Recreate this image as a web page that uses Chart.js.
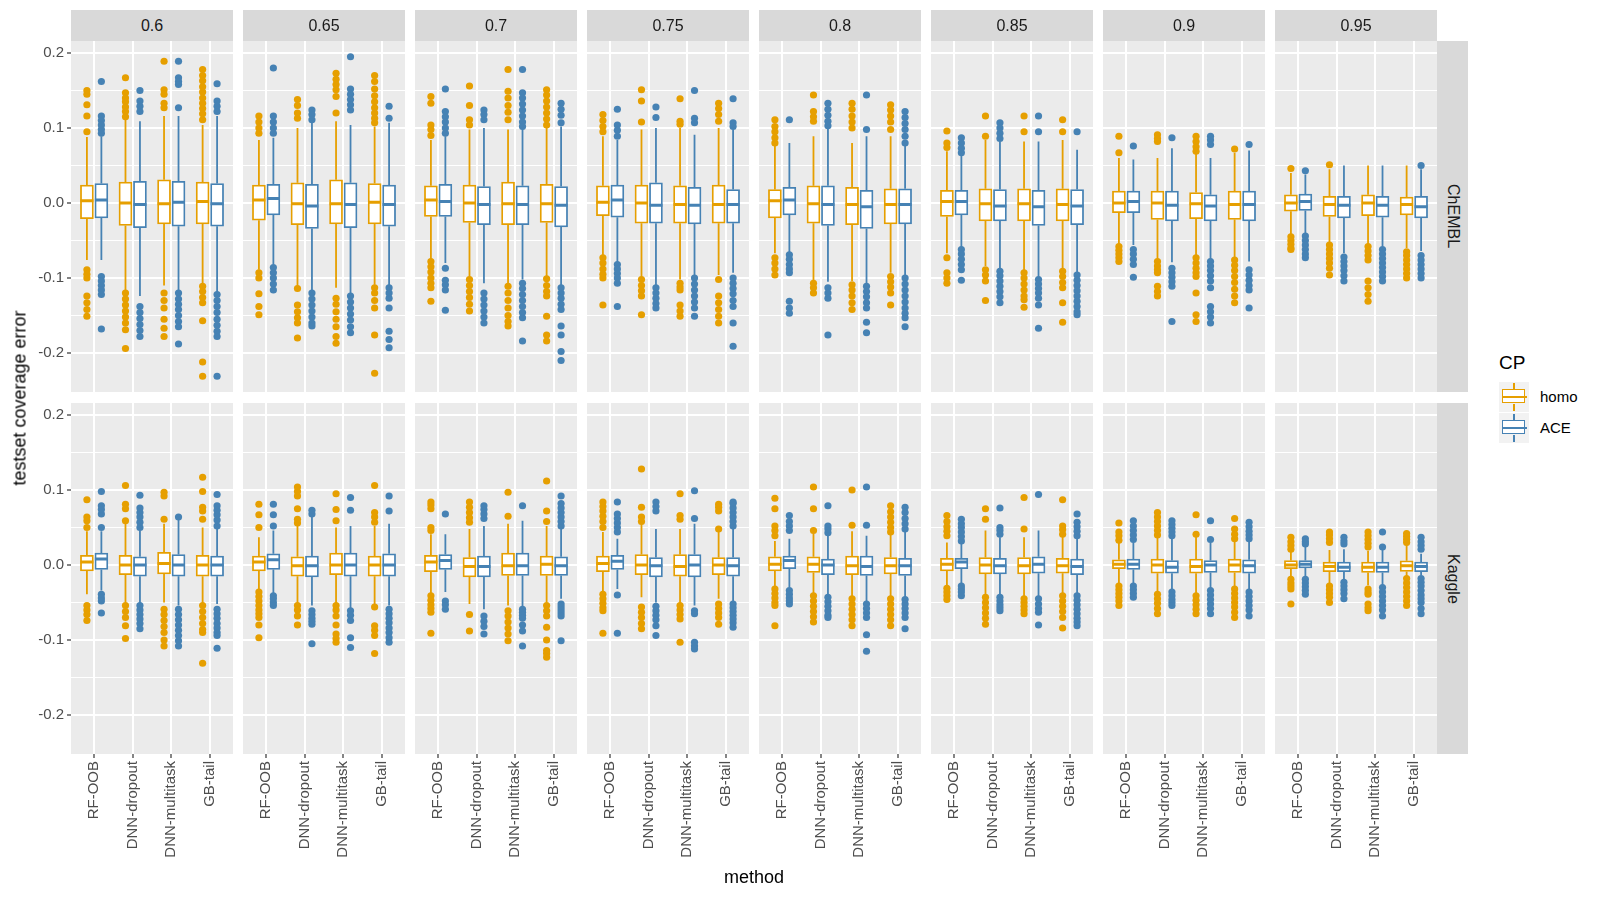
<!DOCTYPE html>
<html>
<head>
<meta charset="utf-8">
<script src="https://cdn.jsdelivr.net/npm/chart.js@4.4.1/dist/chart.umd.min.js"></script>
<style>
  body { margin: 0; background: #fff; font-family: 'Liberation Sans', Arial, sans-serif; }
  #page { position: relative; width: 1600px; height: 900px; overflow: hidden; }
  canvas { position: absolute; }
  .strip { position: absolute; background: #D9D9D9; color: #1A1A1A; font-size: 16px;
           display: flex; align-items: center; justify-content: center; z-index: 2; }
  .strip.side { writing-mode: vertical-rl; }
  .title { position: absolute; color: #000; font-size: 18px; white-space: nowrap; z-index: 2; }
  .key { position: absolute; width: 30px; height: 30px; background: #F2F2F2; }
  .key .bx { position: absolute; left: 3px; top: 7px; width: 21px; height: 12px; background: #fff; border: 1.8px solid; }
  .key .md { position: absolute; left: 3px; top: 14px; width: 25px; height: 2.4px; }
  .key .wh { position: absolute; left: 14px; width: 1.8px; }
  .keytxt { position: absolute; font-size: 15px; color: #000; }
</style>
</head>
<body>
<div id="page"></div>
<script>
// facets, categories, groups
const cutoffs = ['0.6', '0.65', '0.7', '0.75', '0.8', '0.85', '0.9', '0.95'];
const dataSources = ['ChEMBL', 'Kaggle'];
const methods = ['RF-OOB', 'DNN-dropout', 'DNN-multitask', 'GB-tail'];
const cpGroups = ['homo', 'ACE'];
const yTicks = [-0.2, -0.1, 0, 0.1, 0.2];

// box stats per cutoff, per method: [lower whisker, q1, median, q3, upper whisker]
const chemblHomo = [
  [[-0.076,-0.021,0.003,0.024,0.088],[-0.116,-0.030,0.000,0.028,0.111],[-0.110,-0.028,-0.001,0.031,0.116],[-0.107,-0.028,0.002,0.028,0.104]],
  [[-0.089,-0.023,0.004,0.024,0.084],[-0.113,-0.029,-0.001,0.027,0.100],[-0.113,-0.028,-0.001,0.031,0.109],[-0.109,-0.028,0.001,0.026,0.102]],
  [[-0.076,-0.018,0.004,0.023,0.084],[-0.102,-0.026,0.000,0.024,0.098],[-0.109,-0.029,-0.001,0.028,0.098],[-0.098,-0.026,-0.001,0.025,0.100]],
  [[-0.071,-0.017,0.001,0.023,0.089],[-0.100,-0.027,0.000,0.024,0.098],[-0.102,-0.027,-0.002,0.023,0.100],[-0.096,-0.027,-0.002,0.024,0.100]],
  [[-0.067,-0.020,0.003,0.018,0.076],[-0.104,-0.027,-0.001,0.023,0.089],[-0.104,-0.029,-0.002,0.021,0.080],[-0.093,-0.028,-0.002,0.019,0.089]],
  [[-0.067,-0.018,0.002,0.017,0.069],[-0.084,-0.024,-0.001,0.019,0.084],[-0.091,-0.024,-0.001,0.019,0.082],[-0.087,-0.024,-0.002,0.019,0.084]],
  [[-0.056,-0.013,0.000,0.016,0.060],[-0.078,-0.022,0.000,0.016,0.060],[-0.071,-0.021,-0.001,0.014,0.067],[-0.073,-0.022,-0.002,0.016,0.067]],
  [[-0.042,-0.011,0.000,0.011,0.040],[-0.053,-0.018,-0.002,0.009,0.045],[-0.056,-0.017,0.000,0.011,0.050],[-0.060,-0.016,-0.002,0.008,0.050]]
];
const chemblAce = [
  [[-0.076,-0.020,0.004,0.026,0.089],[-0.124,-0.033,-0.002,0.029,0.109],[-0.118,-0.031,0.001,0.029,0.116],[-0.120,-0.031,-0.001,0.026,0.116]],
  [[-0.082,-0.016,0.006,0.025,0.087],[-0.118,-0.034,-0.004,0.025,0.108],[-0.122,-0.033,-0.002,0.027,0.104],[-0.111,-0.031,-0.002,0.024,0.107]],
  [[-0.080,-0.018,0.002,0.025,0.089],[-0.107,-0.029,-0.002,0.022,0.100],[-0.102,-0.029,-0.002,0.023,0.100],[-0.111,-0.032,-0.003,0.022,0.102]],
  [[-0.080,-0.019,0.004,0.024,0.084],[-0.111,-0.027,-0.003,0.027,0.100],[-0.096,-0.028,-0.003,0.021,0.091],[-0.093,-0.027,-0.002,0.018,0.098]],
  [[-0.067,-0.016,0.004,0.021,0.080],[-0.105,-0.030,-0.002,0.023,0.100],[-0.109,-0.034,-0.005,0.017,0.089],[-0.098,-0.028,-0.002,0.019,0.076]],
  [[-0.060,-0.016,0.002,0.017,0.064],[-0.089,-0.024,-0.004,0.018,0.082],[-0.100,-0.030,-0.005,0.017,0.082],[-0.093,-0.029,-0.004,0.018,0.071]],
  [[-0.056,-0.013,0.002,0.016,0.058],[-0.079,-0.024,-0.003,0.016,0.073],[-0.075,-0.024,-0.004,0.011,0.060],[-0.078,-0.024,-0.002,0.016,0.070]],
  [[-0.040,-0.010,0.002,0.012,0.038],[-0.067,-0.020,-0.003,0.009,0.050],[-0.058,-0.019,-0.003,0.009,0.050],[-0.064,-0.020,-0.005,0.009,0.045]]
];
const kaggleHomo = [
  [[-0.039,-0.008,0.004,0.013,0.045],[-0.050,-0.013,0.000,0.013,0.055],[-0.050,-0.012,0.002,0.017,0.055],[-0.052,-0.015,0.000,0.013,0.050]],
  [[-0.032,-0.008,0.004,0.012,0.037],[-0.054,-0.015,-0.001,0.011,0.052],[-0.054,-0.013,0.000,0.016,0.050],[-0.054,-0.015,0.000,0.012,0.052]],
  [[-0.040,-0.009,0.004,0.013,0.041],[-0.052,-0.016,-0.002,0.010,0.048],[-0.054,-0.014,-0.001,0.016,0.055],[-0.050,-0.014,0.001,0.012,0.052]],
  [[-0.036,-0.009,0.002,0.012,0.044],[-0.043,-0.013,0.000,0.014,0.055],[-0.052,-0.015,-0.002,0.014,0.048],[-0.045,-0.013,0.000,0.010,0.044]],
  [[-0.030,-0.008,0.001,0.011,0.032],[-0.039,-0.010,0.001,0.011,0.042],[-0.045,-0.013,-0.001,0.012,0.045],[-0.045,-0.012,-0.001,0.010,0.040]],
  [[-0.030,-0.008,0.001,0.009,0.030],[-0.041,-0.012,0.000,0.010,0.046],[-0.043,-0.012,-0.001,0.010,0.037],[-0.041,-0.011,-0.001,0.009,0.038]],
  [[-0.025,-0.005,0.001,0.007,0.030],[-0.036,-0.011,0.000,0.008,0.037],[-0.041,-0.011,-0.002,0.008,0.039],[-0.030,-0.010,0.000,0.008,0.032]],
  [[-0.016,-0.005,0.000,0.006,0.019],[-0.027,-0.009,-0.002,0.004,0.020],[-0.027,-0.010,-0.003,0.004,0.019],[-0.016,-0.0085,-0.001,0.0057,0.028]]
];
const kaggleAce = [
  [[-0.034,-0.006,0.008,0.016,0.045],[-0.052,-0.015,0.000,0.011,0.046],[-0.054,-0.015,0.000,0.014,0.061],[-0.052,-0.015,0.000,0.012,0.048]],
  [[-0.039,-0.006,0.007,0.015,0.046],[-0.054,-0.016,-0.001,0.012,0.066],[-0.059,-0.015,0.000,0.016,0.052],[-0.054,-0.015,0.000,0.015,0.055]],
  [[-0.036,-0.006,0.006,0.014,0.041],[-0.059,-0.016,-0.002,0.012,0.052],[-0.056,-0.014,-0.001,0.016,0.059],[-0.045,-0.014,-0.001,0.011,0.048]],
  [[-0.032,-0.006,0.005,0.013,0.035],[-0.050,-0.016,-0.001,0.010,0.048],[-0.054,-0.016,0.000,0.014,0.055],[-0.050,-0.015,-0.001,0.010,0.048]],
  [[-0.030,-0.005,0.006,0.012,0.035],[-0.041,-0.013,0.000,0.008,0.039],[-0.050,-0.014,-0.002,0.012,0.039],[-0.045,-0.014,-0.001,0.009,0.044]],
  [[-0.026,-0.005,0.004,0.009,0.030],[-0.041,-0.012,-0.001,0.009,0.037],[-0.043,-0.011,0.001,0.011,0.046],[-0.039,-0.013,-0.002,0.008,0.036]],
  [[-0.026,-0.006,0.001,0.008,0.030],[-0.034,-0.011,-0.003,0.006,0.035],[-0.032,-0.010,0.000,0.006,0.030],[-0.034,-0.011,-0.001,0.007,0.032]],
  [[-0.016,-0.004,0.001,0.006,0.024],[-0.021,-0.009,-0.003,0.004,0.021],[-0.027,-0.010,-0.003,0.004,0.021],[-0.014,-0.009,-0.002,0.004,0.015]]
];

// outliers per cutoff, per method
const chemblHomoOut = [
  [[0.095,0.116,0.131,0.145,0.150,-0.089,-0.095,-0.100,-0.124,-0.133,-0.142,-0.151],
   [0.167,0.147,0.140,0.135,0.128,0.122,0.115,-0.120,-0.128,-0.136,-0.144,-0.152,-0.160,-0.169,-0.194],
   [0.189,0.151,0.145,0.133,0.127,-0.120,-0.130,-0.140,-0.155,-0.167,-0.178],
   [0.178,0.170,0.163,0.155,0.148,0.140,0.133,0.126,0.119,0.111,-0.111,-0.118,-0.126,-0.133,-0.157,-0.212,-0.231]],
  [[0.116,0.108,0.100,0.093,-0.093,-0.100,-0.121,-0.138,-0.149],
   [0.138,0.130,0.120,0.113,-0.114,-0.136,-0.145,-0.153,-0.160,-0.180],
   [0.173,0.165,0.158,0.151,0.142,0.120,-0.127,-0.135,-0.145,-0.155,-0.165,-0.178,-0.187],
   [0.170,0.162,0.152,0.143,0.135,0.127,0.120,0.113,0.107,-0.113,-0.120,-0.130,-0.140,-0.176,-0.227]],
  [[0.142,0.133,0.104,0.098,0.090,-0.078,-0.085,-0.092,-0.100,-0.107,-0.113,-0.131],
   [0.156,0.130,0.111,0.104,-0.102,-0.110,-0.118,-0.126,-0.135,-0.144],
   [0.178,0.149,0.140,0.130,0.121,0.111,-0.111,-0.120,-0.130,-0.140,-0.150,-0.158,-0.164],
   [0.151,0.144,0.136,0.128,0.120,0.112,0.104,-0.101,-0.110,-0.118,-0.124,-0.151,-0.176,-0.184]],
  [[0.118,0.110,0.102,0.095,-0.073,-0.080,-0.088,-0.095,-0.100,-0.136],
   [0.151,0.136,0.108,-0.102,-0.110,-0.117,-0.124,-0.149],
   [0.139,0.109,0.105,-0.107,-0.112,-0.116,-0.136,-0.144,-0.151],
   [0.133,0.126,0.118,0.109,-0.102,-0.124,-0.133,-0.142,-0.151,-0.160]],
  [[0.111,0.102,0.095,0.087,0.080,-0.073,-0.080,-0.088,-0.096],
   [0.144,0.122,0.115,0.109,-0.107,-0.113,-0.120],
   [0.133,0.125,0.116,0.108,0.100,-0.109,-0.116,-0.124,-0.133,-0.142],
   [0.131,0.124,0.116,0.108,0.098,-0.098,-0.105,-0.112,-0.120,-0.136]],
  [[0.096,0.080,0.074,-0.073,-0.093,-0.100,-0.107],
   [0.116,0.089,-0.089,-0.096,-0.104,-0.130],
   [0.116,0.095,-0.093,-0.100,-0.108,-0.116,-0.124,-0.129,-0.139],
   [0.111,0.095,-0.091,-0.098,-0.106,-0.113,-0.133,-0.159]],
  [[0.089,0.067,-0.058,-0.063,-0.068,-0.073,-0.078],
   [0.091,0.086,0.082,-0.078,-0.084,-0.089,-0.093,-0.111,-0.118,-0.124],
   [0.089,0.082,0.075,0.069,-0.073,-0.080,-0.087,-0.093,-0.098,-0.120,-0.149,-0.158],
   [0.072,-0.076,-0.083,-0.090,-0.098,-0.106,-0.115,-0.124,-0.133]],
  [[0.046,-0.045,-0.050,-0.055,-0.060,-0.062],
   [0.051,-0.056,-0.062,-0.068,-0.074,-0.080,-0.087,-0.096],
   [-0.058,-0.064,-0.070,-0.076,-0.104,-0.113,-0.122,-0.131],
   [-0.065,-0.070,-0.076,-0.082,-0.088,-0.094,-0.100]]
];
const chemblAceOut = [
  [[0.162,0.116,0.110,0.104,0.098,0.093,-0.098,-0.104,-0.110,-0.116,-0.122,-0.168],
   [0.150,0.136,0.129,0.122,-0.138,-0.146,-0.154,-0.162,-0.170,-0.178],
   [0.189,0.167,0.162,0.158,0.127,-0.120,-0.128,-0.135,-0.142,-0.150,-0.158,-0.165,-0.188],
   [0.159,0.136,0.129,0.122,-0.122,-0.130,-0.138,-0.146,-0.155,-0.163,-0.171,-0.178,-0.231]],
  [[0.180,0.116,0.108,0.100,0.093,-0.086,-0.093,-0.100,-0.108,-0.116],
   [0.124,0.118,0.111,-0.120,-0.128,-0.136,-0.144,-0.152,-0.160,-0.164],
   [0.195,0.152,0.145,0.138,0.131,0.124,-0.124,-0.132,-0.140,-0.148,-0.156,-0.165,-0.173],
   [0.129,0.113,-0.113,-0.120,-0.127,-0.140,-0.171,-0.182,-0.193]],
  [[0.152,0.122,0.115,0.108,0.100,0.093,-0.087,-0.103,-0.109,-0.116,-0.143],
   [0.124,0.118,0.111,-0.120,-0.128,-0.136,-0.144,-0.152,-0.160],
   [0.178,0.147,0.140,0.132,0.124,0.116,0.108,0.102,-0.107,-0.114,-0.122,-0.130,-0.138,-0.146,-0.153,-0.184],
   [0.133,0.125,0.117,0.107,-0.113,-0.120,-0.127,-0.135,-0.142,-0.164,-0.176,-0.198,-0.210]],
  [[0.125,0.104,0.097,0.089,-0.082,-0.088,-0.094,-0.100,-0.107,-0.138],
   [0.128,0.114,-0.113,-0.120,-0.127,-0.134,-0.140],
   [0.150,0.113,0.107,-0.100,-0.108,-0.116,-0.124,-0.132,-0.140,-0.151],
   [0.139,0.107,0.102,-0.100,-0.107,-0.114,-0.121,-0.130,-0.138,-0.160,-0.191]],
  [[0.111,-0.069,-0.075,-0.082,-0.088,-0.093,-0.131,-0.140,-0.147],
   [0.133,0.125,0.117,0.109,0.103,-0.113,-0.120,-0.127,-0.176],
   [0.144,0.098,-0.111,-0.118,-0.125,-0.133,-0.140,-0.159,-0.173],
   [0.122,0.114,0.106,0.098,0.089,0.080,-0.100,-0.108,-0.116,-0.124,-0.132,-0.140,-0.147,-0.153,-0.165]],
  [[0.087,0.080,0.073,0.067,-0.062,-0.068,-0.075,-0.082,-0.089,-0.103],
   [0.107,0.100,0.093,0.086,-0.091,-0.097,-0.104,-0.111,-0.118,-0.125,-0.133],
   [0.116,0.095,-0.102,-0.108,-0.114,-0.120,-0.127,-0.136,-0.167],
   [0.095,-0.096,-0.103,-0.110,-0.117,-0.124,-0.131,-0.138,-0.145,-0.149]],
  [[0.076,-0.062,-0.068,-0.075,-0.082,-0.099],
   [0.087,-0.087,-0.093,-0.099,-0.105,-0.111,-0.158],
   [0.089,0.084,0.078,-0.078,-0.084,-0.090,-0.097,-0.104,-0.113,-0.138,-0.145,-0.152,-0.160],
   [0.078,-0.089,-0.096,-0.103,-0.110,-0.116,-0.140]],
  [[0.043,-0.044,-0.050,-0.056,-0.062,-0.068,-0.073],
   [-0.072,-0.078,-0.084,-0.090,-0.097,-0.104],
   [-0.062,-0.068,-0.074,-0.080,-0.086,-0.092,-0.098,-0.104],
   [0.050,-0.070,-0.076,-0.082,-0.088,-0.094,-0.100]]
];
const kaggleHomoOut = [
  [[0.050,0.059,0.064,0.087,-0.054,-0.060,-0.066,-0.074],
   [0.059,0.075,0.081,0.106,-0.054,-0.062,-0.070,-0.081,-0.098],
   [0.061,0.092,0.097,-0.059,-0.066,-0.074,-0.082,-0.090,-0.100,-0.108],
   [0.061,0.072,0.077,0.098,0.117,-0.054,-0.062,-0.070,-0.078,-0.086,-0.090,-0.131]],
  [[0.050,0.067,0.081,-0.036,-0.042,-0.048,-0.054,-0.060,-0.065,-0.070,-0.080,-0.097],
   [0.104,0.098,0.092,0.075,0.061,0.056,-0.054,-0.060,-0.068,-0.080],
   [0.059,0.074,0.095,-0.054,-0.060,-0.068,-0.080,-0.092,-0.098,-0.103],
   [0.106,0.070,0.064,0.057,-0.056,-0.081,-0.087,-0.094,-0.118]],
  [[0.046,0.050,0.075,0.080,0.084,-0.041,-0.047,-0.053,-0.058,-0.063,-0.091],
   [0.057,0.063,0.070,0.077,0.084,-0.066,-0.088],
   [0.065,0.097,-0.061,-0.068,-0.076,-0.084,-0.092,-0.101],
   [0.058,0.072,0.112,-0.054,-0.061,-0.068,-0.083,-0.100,-0.114,-0.118,-0.123]],
  [[0.050,0.058,0.065,0.072,0.078,0.084,-0.039,-0.045,-0.051,-0.057,-0.061,-0.091],
   [0.058,0.064,0.077,0.128,-0.056,-0.063,-0.070,-0.078,-0.085],
   [0.061,0.066,0.095,-0.054,-0.060,-0.066,-0.072,-0.103],
   [0.048,0.072,0.077,0.081,-0.052,-0.058,-0.064,-0.070,-0.079]],
  [[0.039,0.046,0.052,0.075,0.089,-0.032,-0.038,-0.044,-0.050,-0.054,-0.081],
   [0.046,0.075,0.104,-0.041,-0.048,-0.055,-0.062,-0.069,-0.076],
   [0.053,0.100,-0.045,-0.052,-0.059,-0.066,-0.073,-0.081],
   [0.044,0.050,0.057,0.064,0.071,0.079,-0.045,-0.052,-0.059,-0.066,-0.073,-0.081]],
  [[0.039,0.045,0.051,0.058,0.066,-0.031,-0.036,-0.041,-0.046],
   [0.061,0.075,-0.043,-0.050,-0.057,-0.064,-0.071,-0.079],
   [0.048,0.090,-0.045,-0.050,-0.055,-0.060,-0.065],
   [0.041,0.047,0.052,0.087,-0.041,-0.048,-0.055,-0.062,-0.070,-0.084]],
  [[0.033,0.039,0.044,0.056,-0.028,-0.033,-0.038,-0.043,-0.048,-0.054],
   [0.040,0.046,0.052,0.058,0.064,0.070,-0.039,-0.045,-0.051,-0.058,-0.065],
   [0.041,0.067,-0.041,-0.047,-0.053,-0.059,-0.065],
   [0.035,0.041,0.048,0.062,-0.032,-0.038,-0.044,-0.050,-0.056,-0.063,-0.070]],
  [[0.021,0.026,0.031,0.037,-0.019,-0.024,-0.028,-0.032,-0.052],
   [0.030,0.035,0.040,0.044,-0.028,-0.033,-0.038,-0.043,-0.050],
   [0.024,0.029,0.034,0.039,0.044,-0.032,-0.036,-0.039,-0.052,-0.057,-0.061],
   [0.030,0.034,0.038,0.042,-0.018,-0.024,-0.030,-0.036,-0.042,-0.048,-0.054]]
];
const kaggleAceOut = [
  [[0.050,0.068,0.074,0.079,0.098,-0.039,-0.044,-0.048,-0.064],
   [0.050,0.057,0.064,0.070,0.076,0.093,-0.054,-0.060,-0.066,-0.072,-0.078,-0.085],
   [0.064,-0.059,-0.066,-0.073,-0.080,-0.087,-0.094,-0.101,-0.108],
   [0.052,0.060,0.067,0.073,0.079,0.094,-0.059,-0.065,-0.071,-0.078,-0.084,-0.090,-0.094,-0.111]],
  [[0.052,0.067,0.081,-0.041,-0.045,-0.050,-0.054],
   [0.068,0.073,-0.061,-0.066,-0.071,-0.075,-0.079,-0.105],
   [0.073,0.090,-0.061,-0.067,-0.074,-0.097,-0.110],
   [0.072,0.092,-0.059,-0.065,-0.071,-0.077,-0.084,-0.090,-0.097,-0.103]],
  [[0.068,-0.048,-0.053,-0.059],
   [0.062,0.068,0.074,0.079,-0.068,-0.075,-0.082,-0.092],
   [0.079,-0.059,-0.063,-0.067,-0.071,-0.080,-0.088,-0.108],
   [0.052,0.058,0.064,0.070,0.076,0.082,0.092,-0.052,-0.056,-0.060,-0.064,-0.068,-0.101]],
  [[0.044,0.050,0.056,0.062,0.068,0.084,-0.040,-0.091],
   [0.072,0.078,0.084,-0.055,-0.061,-0.067,-0.073,-0.081,-0.094],
   [0.062,0.099,-0.061,-0.065,-0.103,-0.108,-0.112],
   [0.052,0.058,0.064,0.070,0.076,0.082,0.084,-0.052,-0.057,-0.062,-0.067,-0.072,-0.077,-0.083]],
  [[0.046,0.052,0.058,0.066,-0.034,-0.039,-0.044,-0.048,-0.052],
   [0.043,0.048,0.052,0.079,-0.043,-0.049,-0.055,-0.061,-0.067,-0.070],
   [0.053,0.104,-0.052,-0.058,-0.064,-0.070,-0.093,-0.115],
   [0.048,0.055,0.062,0.070,0.077,-0.046,-0.052,-0.058,-0.064,-0.070,-0.085]],
  [[0.032,0.038,0.044,0.050,0.055,0.061,-0.028,-0.032,-0.036,-0.041],
   [0.041,0.046,0.050,0.076,-0.043,-0.048,-0.053,-0.057,-0.061],
   [0.094,-0.045,-0.052,-0.058,-0.063,-0.080],
   [0.039,0.045,0.051,0.057,0.068,-0.041,-0.047,-0.053,-0.059,-0.065,-0.071,-0.076,-0.081]],
  [[0.034,0.040,0.046,0.052,0.059,-0.028,-0.033,-0.038,-0.043],
   [0.039,0.044,0.049,0.054,0.059,-0.036,-0.041,-0.046,-0.050,-0.054],
   [0.034,0.059,-0.034,-0.040,-0.046,-0.052,-0.058,-0.065],
   [0.035,0.040,0.045,0.051,0.057,-0.036,-0.042,-0.048,-0.054,-0.060,-0.068]],
  [[0.028,0.031,0.035,-0.019,-0.024,-0.029,-0.034,-0.039],
   [0.028,0.032,0.037,-0.023,-0.028,-0.033,-0.038,-0.045],
   [0.024,0.044,-0.030,-0.036,-0.042,-0.048,-0.054,-0.060,-0.068],
   [0.021,0.026,0.031,0.037,-0.018,-0.023,-0.028,-0.034,-0.040,-0.045,-0.050,-0.058,-0.065]]
];

const cpColors = ['#E69F00', '#4682B4'];
const statsByRow = [[chemblHomo, chemblAce], [kaggleHomo, kaggleAce]];
const outByRow = [[chemblHomoOut, chemblAceOut], [kaggleHomoOut, kaggleAceOut]];

// layout (pixels)
const PANEL_LEFT = 71, PANEL_PITCH = 172, PANEL_W = 162, PANEL_H = 351;
const ROW_TOP = [41, 403];
const M = 20, Y_AXIS_W = 45, X_AXIS_H = 115;
const Y_MIN = -0.252, Y_MAX = 0.216;
const X_MIN = 0.4, X_MAX = 4.6;
const DODGE = 0.1875, HALF_BOX = 0.16875;
const boxPx = 2 * HALF_BOX * PANEL_W / (X_MAX - X_MIN);

// major breaks plus minor breaks in between
const gridValues = [];
yTicks.forEach((v, i) => {
  gridValues.push(v);
  if (i < yTicks.length - 1) gridValues.push((v + yTicks[i + 1]) / 2);
});
const isMajor = v => yTicks.some(t => Math.abs(t - v) < 1e-9);

Chart.defaults.font.family = "'Liberation Sans', Arial, sans-serif";

const panelBg = {
  id: 'panelBg',
  beforeDraw(chart) {
    const {ctx, chartArea: a} = chart;
    ctx.save();
    ctx.fillStyle = '#EBEBEB';
    ctx.fillRect(a.left, a.top, a.right - a.left, a.bottom - a.top);
    ctx.restore();
  }
};

function panelDatasets(row, col) {
  const sets = [];
  cpGroups.forEach((cp, g) => {
    const stats = statsByRow[row][g][col];
    const outs = outByRow[row][g][col];
    const d = g === 0 ? -DODGE : DODGE;
    const color = cpColors[g];
    const whisk = [], med = [], pts = [];
    stats.forEach((s, i) => {
      const x = i + 1 + d;
      whisk.push({x, y: s[0]}, {x, y: s[1]}, {x, y: null}, {x, y: s[3]}, {x, y: s[4]}, {x, y: null});
      med.push({x: x - HALF_BOX, y: s[2]}, {x: x + HALF_BOX, y: s[2]}, {x, y: null});
      outs[i].forEach(v => pts.push({x, y: v}));
    });
    sets.push({
      type: 'bar', label: cp,
      data: stats.map((s, i) => ({x: i + 1 + d, y: [s[1], s[3]]})),
      backgroundColor: '#FFFFFF', borderColor: color, borderWidth: 1.8,
      borderSkipped: false, grouped: false, barThickness: boxPx, order: 2
    });
    sets.push({
      type: 'line', label: cp + ' whiskers', data: whisk,
      borderColor: color, borderWidth: 1.8, pointRadius: 0, spanGaps: false, order: 3
    });
    sets.push({
      type: 'line', label: cp + ' median', data: med,
      borderColor: color, borderWidth: 3.2, pointRadius: 0, spanGaps: false, order: 1
    });
    sets.push({
      type: 'line', label: cp + ' outliers', data: pts, showLine: false,
      pointRadius: 3.6, pointBackgroundColor: color, pointBorderWidth: 0, order: 0
    });
  });
  return sets;
}

const page = document.getElementById('page');

dataSources.forEach((src, row) => {
  cutoffs.forEach((cut, col) => {
    const panelX = PANEL_LEFT + col * PANEL_PITCH;
    const left = col === 0 ? panelX - Y_AXIS_W : panelX - M;
    const top = ROW_TOP[row] - M;
    const w = (col === 0 ? Y_AXIS_W : M) + PANEL_W + M;
    const h = M + PANEL_H + (row === 1 ? X_AXIS_H : M);
    const cv = document.createElement('canvas');
    cv.width = w; cv.height = h;
    cv.style.left = left + 'px'; cv.style.top = top + 'px';
    cv.style.width = w + 'px'; cv.style.height = h + 'px';
    page.appendChild(cv);

    new Chart(cv, {
      type: 'bar',
      data: {datasets: panelDatasets(row, col)},
      options: {
        responsive: false, animation: false, events: [], devicePixelRatio: 1,
        layout: {padding: {left: col === 0 ? 0 : M, right: M, top: M, bottom: row === 1 ? 0 : M}},
        plugins: {legend: {display: false}, tooltip: {enabled: false}},
        scales: {
          x: {
            type: 'linear', min: X_MIN, max: X_MAX, offset: false,
            afterBuildTicks: ax => { ax.ticks = methods.map((m, i) => ({value: i + 1})); },
            afterFit: ax => { ax.height = row === 1 ? X_AXIS_H : 0; },
            grid: {color: '#FFFFFF', lineWidth: 2, offset: false, drawTicks: row === 1,
                   tickLength: 4, tickColor: '#333333', tickWidth: 1.2},
            border: {display: false},
            ticks: {display: row === 1, autoSkip: false, maxRotation: 90, minRotation: 90,
                    padding: 3, color: '#4D4D4D', font: {size: 15},
                    callback: v => methods[Math.round(v) - 1]}
          },
          y: {
            type: 'linear', min: Y_MIN, max: Y_MAX, beginAtZero: false,
            afterBuildTicks: ax => { ax.ticks = gridValues.map(v => ({value: v})); },
            afterFit: ax => { ax.width = col === 0 ? Y_AXIS_W : 0; },
            grid: {
              color: '#FFFFFF',
              lineWidth: c => (c.tick && isMajor(c.tick.value)) ? 2 : 1,
              drawTicks: col === 0, tickLength: 4, tickWidth: 1.2,
              tickColor: c => (c.tick && isMajor(c.tick.value)) ? '#333333' : 'rgba(0,0,0,0)'
            },
            border: {display: false},
            ticks: {display: col === 0, autoSkip: false, padding: 3, color: '#4D4D4D', font: {size: 15},
                    callback: v => isMajor(v) ? v.toFixed(1) : ''}
          }
        }
      },
      plugins: [panelBg]
    });
  });
});

// facet strips
cutoffs.forEach((cut, col) => {
  const s = document.createElement('div');
  s.className = 'strip';
  s.style.left = (PANEL_LEFT + col * PANEL_PITCH) + 'px';
  s.style.top = '10px';
  s.style.width = PANEL_W + 'px';
  s.style.height = '31px';
  s.textContent = cut;
  page.appendChild(s);
});
dataSources.forEach((src, row) => {
  const s = document.createElement('div');
  s.className = 'strip side';
  s.style.left = (PANEL_LEFT + 7 * PANEL_PITCH + PANEL_W) + 'px';
  s.style.top = ROW_TOP[row] + 'px';
  s.style.width = '31px';
  s.style.height = PANEL_H + 'px';
  s.textContent = src;
  page.appendChild(s);
});

// axis titles
const xt = document.createElement('div');
xt.className = 'title';
xt.textContent = 'method';
xt.style.left = (PANEL_LEFT + (7 * PANEL_PITCH + PANEL_W) / 2) + 'px';
xt.style.top = '877px';
xt.style.transform = 'translate(-50%, -50%)';
page.appendChild(xt);

const yt = document.createElement('div');
yt.className = 'title';
yt.textContent = 'testset coverage error';
yt.style.left = '20px';
yt.style.top = ((ROW_TOP[0] + ROW_TOP[1] + PANEL_H) / 2) + 'px';
yt.style.transform = 'translate(-50%, -50%) rotate(-90deg)';
page.appendChild(yt);

// legend
const lt = document.createElement('div');
lt.className = 'title';
lt.textContent = 'CP';
lt.style.left = '1499px';
lt.style.top = '352px';
lt.style.fontSize = '19px';
page.appendChild(lt);

cpGroups.forEach((cp, g) => {
  const top = 382 + g * 31;
  const k = document.createElement('div');
  k.className = 'key';
  k.style.left = '1499px';
  k.style.top = top + 'px';
  const c = cpColors[g];
  k.innerHTML =
    '<div class="wh" style="top:1px;height:7px;background:' + c + '"></div>' +
    '<div class="wh" style="top:22px;height:7px;background:' + c + '"></div>' +
    '<div class="bx" style="border-color:' + c + '"></div>' +
    '<div class="md" style="background:' + c + '"></div>';
  page.appendChild(k);
  const t = document.createElement('div');
  t.className = 'keytxt';
  t.textContent = cp;
  t.style.left = '1540px';
  t.style.top = (top + 6) + 'px';
  page.appendChild(t);
});
</script>
</body>
</html>
